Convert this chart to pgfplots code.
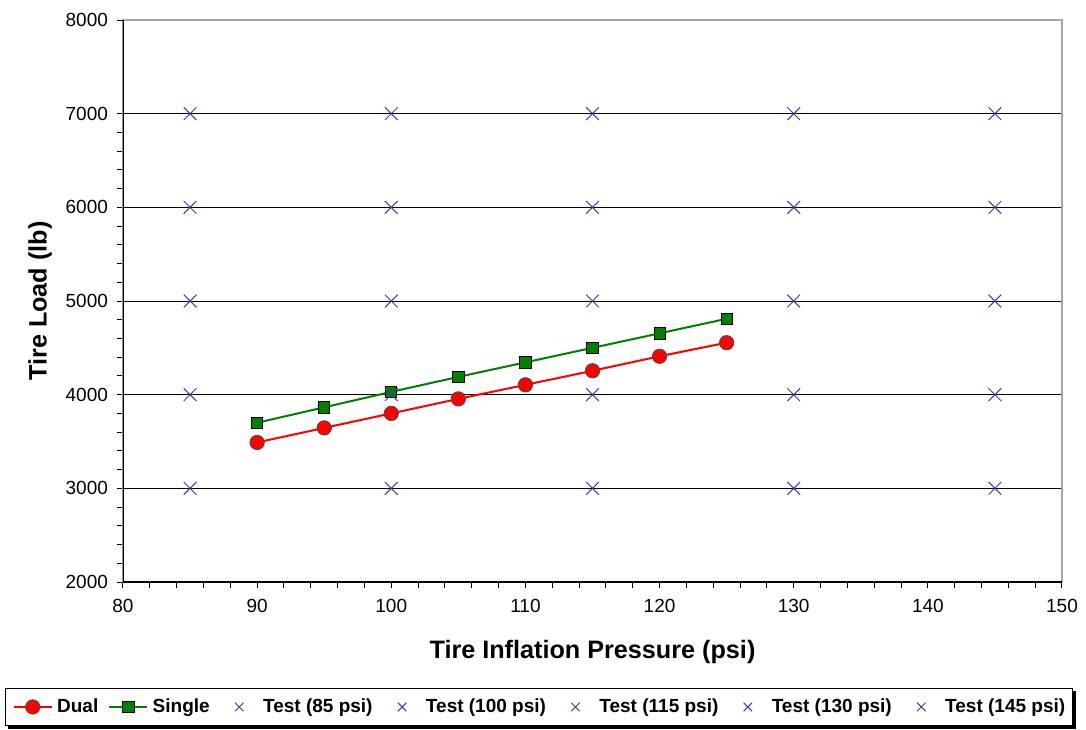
\documentclass[border=0pt]{standalone}
\usepackage{fontspec}
\setmainfont{Liberation Sans}
\usepackage{pgfplots}
\pgfplotsset{compat=1.18}

\definecolor{dualred}{RGB}{255,0,0}
\definecolor{singlegreen}{RGB}{0,128,0}
\definecolor{testblue}{RGB}{60,60,170}

\pgfplotsset{
    legimg/.style={legend image code/.code={\path (0pt,0pt) (19pt,0pt);\draw[mark repeat=2,mark phase=2,##1] plot coordinates {(0pt,0pt) (9.5pt,0pt) (19pt,0pt)};}},
    testplot/.style={only marks, mark=x, mark size=4.5pt, color=testblue, line width=0.5pt,
        legimg, legend image post style={mark size=3pt}},
}

\begin{document}
\begin{tikzpicture}
\begin{axis}[
    scale only axis,
    width=469.5pt,
    height=281pt,
    xmin=80, xmax=150,
    ymin=2000, ymax=8000,
    xtick={80,90,...,150},
    ytick={2000,3000,...,7000},
    extra y ticks={8000},
    extra y tick style={grid=none},
    minor x tick num=4,
    minor y tick num=4,
    xtick pos=bottom,
    ytick pos=left,
    tick align=outside,
    major tick length=3pt,
    minor tick length=3pt,
    tick style={black, line width=0.5pt},
    ymajorgrids,
    major grid style={black, line width=0.5pt},
    axis line style={gray!70, line width=0.6pt},
    /pgf/number format/assume math mode=true,
    /pgf/number format/1000 sep={},
    ticklabel style={font=\fontsize{9.5}{11}\selectfont},
    xticklabel style={yshift=-2pt},
    yticklabel style={xshift=-1pt},
    xlabel={Tire Inflation Pressure (psi)},
    ylabel={Tire Load (lb)},
    every axis x label/.style={at={(axis description cs:0.5,-0.1246)}, anchor=center, font=\fontsize{12.6}{15}\selectfont\bfseries},
    every axis y label/.style={at={(axis description cs:-0.0884,0.5)}, rotate=90, anchor=center, font=\fontsize{12.6}{15}\selectfont\bfseries},
    legend columns=-1,
    legimg,
    legend style={
        at={(axis description cs:-0.1255,-0.1886)}, anchor=north west,
        name=leg,
        draw=black, fill=white, line width=0.6pt,
        font=\fontsize{9.5}{11}\selectfont\bfseries,
        inner xsep=3.5pt, inner ysep=3pt,
        nodes={inner xsep=0pt},
        /tikz/every odd column/.append style={column sep=2.2pt},
        /tikz/every even column/.append style={column sep=5pt},
    },
]

% Dual
\addplot[color=dualred, line width=1pt, mark=*, mark size=3.6pt,
    mark options={fill=dualred, draw=black!70, line width=0.4pt}]
coordinates {
    (90,3490) (95,3645) (100,3800) (105,3955) (110,4105) (115,4255) (120,4410) (125,4555)
};

% Single
\addplot[color=singlegreen, line width=1pt, mark=square*, mark size=2.8pt,
    mark options={fill=singlegreen, draw=black, line width=0.4pt}]
coordinates {
    (90,3700) (95,3865) (100,4030) (105,4190) (110,4345) (115,4500) (120,4655) (125,4810)
};

% Tests
\addplot[testplot] coordinates {(85,3000) (85,4000) (85,5000) (85,6000) (85,7000)};
\addplot[testplot] coordinates {(100,3000) (100,4000) (100,5000) (100,6000) (100,7000)};
\addplot[testplot] coordinates {(115,3000) (115,4000) (115,5000) (115,6000) (115,7000)};
\addplot[testplot] coordinates {(130,3000) (130,4000) (130,5000) (130,6000) (130,7000)};
\addplot[testplot] coordinates {(145,3000) (145,4000) (145,5000) (145,6000) (145,7000)};

\legend{Dual, Single, Test (85 psi), Test (100 psi), Test (115 psi), Test (130 psi), Test (145 psi)}

\draw[black, line width=0.6pt] (rel axis cs:0,1) -- (rel axis cs:0,0) -- (rel axis cs:1,0);
\end{axis}
% legend shadow on right and bottom edges
\draw[black, line width=1.5pt]
    ([shift={(0.75pt,-1.5pt)}]leg.north east) -- ([shift={(0.75pt,-0.75pt)}]leg.south east)
    -- ([shift={(1.5pt,-0.75pt)}]leg.south west);
\pgfresetboundingbox
\path (-61.5pt,-73.5pt) rectangle (481.5pt,291pt);
\end{tikzpicture}
\end{document}
